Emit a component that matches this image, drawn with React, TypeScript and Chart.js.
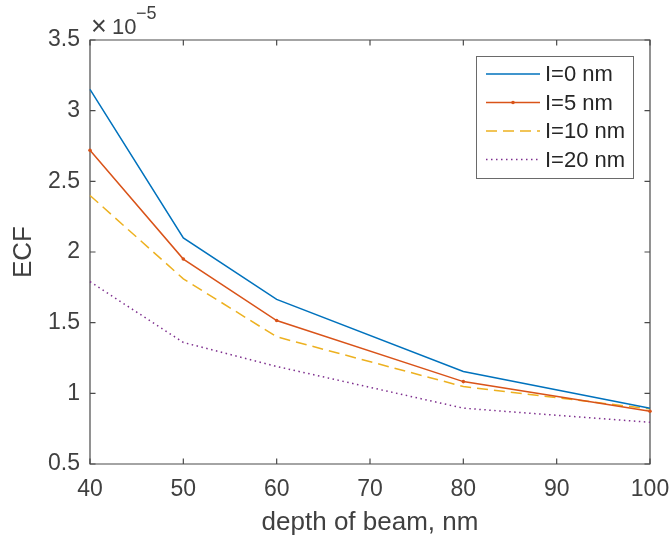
import React, { useEffect, useRef } from "react";
import { Chart, registerables } from "chart.js";

Chart.register(...registerables);

// ---- Data (ECF values in units of 1e-5) ----
const depths = [40, 50, 60, 80, 100];
const ecfI0 = [3.15, 2.1, 1.665, 1.155, 0.895];
const ecfI5 = [2.72, 1.95, 1.515, 1.083, 0.873];
const ecfI10 = [2.4, 1.81, 1.4, 1.048, 0.89];
const ecfI20 = [1.79, 1.36, 1.19, 0.895, 0.795];
const seriesLabels = ["I=0 nm", "I=5 nm", "I=10 nm", "I=20 nm"];
const xTickValues = [40, 50, 60, 70, 80, 90, 100];
const yTickValues = [0.5, 1, 1.5, 2, 2.5, 3, 3.5];
const exponent = "\u22125";
const xTitle = "depth of beam, nm";
const yTitle = "ECF";

const FONT = "'Liberation Sans', Arial, Helvetica, sans-serif";
const AXIS = "#4a4a4a";
const TEXT = "#404040";
const COLORS = ["#0072BD", "#D95319", "#EDB120", "#7E2F8E"];
const DASHES: number[][] = [[], [], [11, 6], [1.5, 3.5]];

const axesPlugin = {
  id: "matlabAxes",
  beforeDatasetsDraw(chart: any) {
    const { ctx, chartArea, scales } = chart;
    const { left, right, top, bottom } = chartArea;
    const x = scales.x;
    const y = scales.y;
    ctx.save();
    ctx.strokeStyle = AXIS;
    ctx.lineWidth = 1.2;
    ctx.setLineDash([]);
    ctx.beginPath();
    ctx.rect(left, top, right - left, bottom - top);
    ctx.stroke();
    const tl = 5.5;
    ctx.beginPath();
    for (const v of xTickValues) {
      const px = x.getPixelForValue(v);
      ctx.moveTo(px, bottom);
      ctx.lineTo(px, bottom - tl);
      ctx.moveTo(px, top);
      ctx.lineTo(px, top + tl);
    }
    for (const v of yTickValues) {
      const py = y.getPixelForValue(v);
      ctx.moveTo(left, py);
      ctx.lineTo(left + tl, py);
      ctx.moveTo(right, py);
      ctx.lineTo(right - tl, py);
    }
    ctx.stroke();
    // exponent label: ×10^-5
    ctx.fillStyle = TEXT;
    ctx.textBaseline = "alphabetic";
    ctx.textAlign = "left";
    ctx.font = `27px ${FONT}`;
    ctx.fillText("\u00d7", left + 1, top - 5);
    ctx.font = `22px ${FONT}`;
    ctx.fillText("10", left + 22, top - 6);
    ctx.font = `18px ${FONT}`;
    ctx.fillText(exponent, left + 46, top - 21);
    ctx.restore();
  },
  afterDraw(chart: any) {
    const { ctx } = chart;
    const bx = 476, by = 56, bw = 157, bh = 122;
    ctx.save();
    ctx.fillStyle = "#ffffff";
    ctx.fillRect(bx, by, bw, bh);
    ctx.strokeStyle = "#6a6a6a";
    ctx.lineWidth = 1;
    ctx.setLineDash([]);
    ctx.strokeRect(bx + 0.5, by + 0.5, bw, bh);
    const rowH = 28.5;
    chart.data.datasets.forEach((ds: any, i: number) => {
      const cy = by + 18 + i * rowH;
      ctx.strokeStyle = ds.borderColor;
      ctx.lineWidth = ds.borderWidth;
      ctx.setLineDash(ds.borderDash || []);
      ctx.beginPath();
      ctx.moveTo(486, cy);
      ctx.lineTo(540, cy);
      ctx.stroke();
      if (ds.pointRadius > 0) {
        ctx.setLineDash([]);
        ctx.fillStyle = ds.borderColor;
        ctx.beginPath();
        ctx.arc(513, cy, ds.pointRadius, 0, Math.PI * 2);
        ctx.fill();
      }
      ctx.setLineDash([]);
      ctx.fillStyle = "#262626";
      ctx.font = `22px ${FONT}`;
      ctx.textAlign = "left";
      ctx.textBaseline = "middle";
      ctx.fillText(ds.label, 545, cy + 1);
    });
    ctx.restore();
  },
};

export default function App() {
  const ref = useRef<HTMLCanvasElement | null>(null);
  useEffect(() => {
    if (!ref.current) return;
    const all = [ecfI0, ecfI5, ecfI10, ecfI20];
    const chart = new Chart(ref.current, {
      type: "line",
      data: {
        datasets: all.map((vals, i) => ({
          label: seriesLabels[i],
          data: depths.map((d, k) => ({ x: d, y: vals[k] })),
          borderColor: COLORS[i],
          backgroundColor: COLORS[i],
          borderWidth: 1.5,
          borderDash: DASHES[i],
          pointRadius: i === 1 ? 1.8 : 0,
          pointHoverRadius: 0,
          pointBorderWidth: 0,
          fill: false,
          tension: 0,
          clip: false as any,
        })),
      },
      options: {
        animation: false,
        responsive: false,
        devicePixelRatio: 1,
        events: [],
        layout: { padding: { top: 40, right: 22, left: 0, bottom: 0 } },
        plugins: { legend: { display: false }, tooltip: { enabled: false } },
        scales: {
          x: {
            type: "linear",
            min: 40,
            max: 100,
            grid: { display: false, drawTicks: false },
            border: { display: false },
            afterBuildTicks: (s: any) => {
              s.ticks = xTickValues.map((v) => ({ value: v }));
            },
            afterFit: (s: any) => {
              s.height = 79;
              s.paddingLeft = 0;
              s.paddingRight = 0;
            },
            ticks: {
              font: { family: FONT, size: 23 },
              color: TEXT,
              padding: 12,
              maxRotation: 0,
              callback: (v: any) => String(v),
            },
            title: {
              display: true,
              text: xTitle,
              font: { family: FONT, size: 26 },
              color: TEXT,
              padding: { top: 0, bottom: 5 },
            },
          },
          y: {
            type: "linear",
            min: 0.5,
            max: 3.5,
            grid: { display: false, drawTicks: false },
            border: { display: false },
            afterBuildTicks: (s: any) => {
              s.ticks = yTickValues.map((v) => ({ value: v }));
            },
            afterFit: (s: any) => {
              s.width = 90;
              s.paddingTop = 0;
              s.paddingBottom = 0;
            },
            ticks: {
              font: { family: FONT, size: 23 },
              color: TEXT,
              padding: 10,
              callback: (v: any) => String(v),
            },
            title: {
              display: true,
              text: yTitle,
              font: { family: FONT, size: 26 },
              color: TEXT,
              padding: { top: 8, bottom: 0 },
            },
          },
        },
      },
      plugins: [axesPlugin],
    } as any);
    return () => chart.destroy();
  }, []);
  return (
    <div style={{ position: "absolute", left: 0, top: 0, width: 672, height: 543, background: "#fff" }}>
      <canvas ref={ref} width={672} height={543} style={{ display: "block" }} />
    </div>
  );
}
